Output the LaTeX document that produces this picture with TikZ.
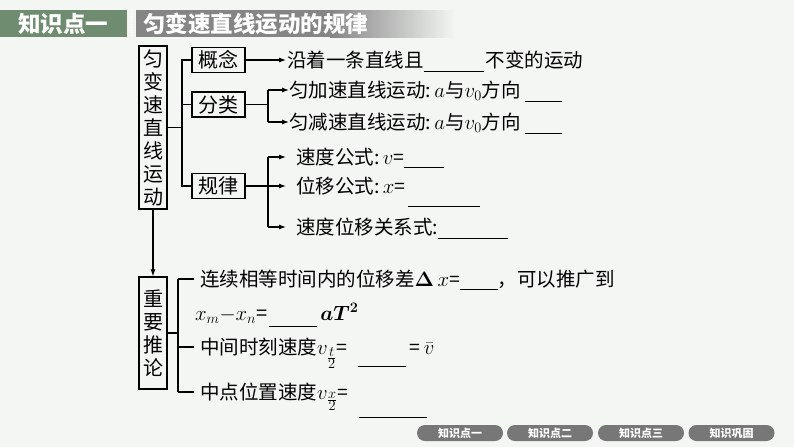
\documentclass[tikz,border=0pt]{standalone}
\usepackage{amsmath}
\usepackage[no-math]{fontspec}
\setmainfont{Noto Sans CJK SC}
\usetikzlibrary{arrows.meta}
\definecolor{bg}{HTML}{F3F6F3}
\definecolor{hgreen}{HTML}{6F8B70}
\definecolor{hgray}{HTML}{858585}
\definecolor{pillc}{HTML}{777777}
\newcommand{\blank}[2]{\rule[-#2]{#1}{0.9pt}}
\begin{document}
\begin{tikzpicture}[x=1pt,y=-1pt,
 ln/.style={line width=1.1pt},
 arr/.style={line width=1.1pt,-{Latex[length=7pt,width=5pt]}},
 vbox/.style={draw,line width=1.2pt,inner sep=0pt,minimum width=28pt,align=center,font=\fontsize{20}{23}\selectfont},
 hbox/.style={draw,line width=1.2pt,inner sep=0pt,minimum width=53pt,minimum height=25pt,font=\fontsize{20}{20}\selectfont},
 txt/.style={anchor=west,inner sep=0pt,text height=15pt,text depth=0pt,font=\fontsize{19.5}{20}\selectfont},
 pillst/.style={fill=pillc,rounded corners=8pt,minimum width=86pt,minimum height=16pt,inner sep=0pt,text=white,font=\fontsize{11}{11}\selectfont\bfseries},
 hdr/.style={text=white,inner sep=0pt,font=\fontsize{22.5}{22.5}\selectfont\bfseries}]
\useasboundingbox (0,0) rectangle (794,447);
\fill[bg] (0,0) rectangle (794,447);
% header
\fill[hgreen] (0,10) rectangle (127,37);
\node[hdr] (h1) at (63,23.5) {知识点一};
\draw[white,dotted,line width=0.8pt] (131.5,10) -- (131.5,37);
\fill[hgray] (136,10) rectangle (330,37);
\shade[left color=hgray,right color=bg] (330,10) rectangle (455,37);
\node[hdr,anchor=west] (h2) at (143,23.5) {匀变速直线运动的规律};
% boxes
\node[vbox,minimum height=163pt] (m1) at (153,127.5) {匀\\变\\速\\直\\线\\运\\动};
\node[hbox] (gn) at (218.5,60) {概念};
\node[hbox] (fl) at (218.5,104.5) {分类};
\node[hbox] (gl) at (218.5,186) {规律};
\node[vbox,minimum height=112pt] (m2) at (153,333) {重\\要\\推\\论};
\coordinate (bx) at (182,0);
\coordinate (cx) at (268,0);
\coordinate (dx) at (178,0);
% texts
\node[txt] (t1) at (287,60) {沿着一条直线且\blank{60pt}{4.5pt}\hspace{2pt}不变的运动};
\node[txt] (t2) at (289,90) {匀加速直线运动:\,$a$与$v_0$方向\hspace{4pt}\blank{37pt}{4.5pt}};
\node[txt] (t3) at (289,122) {匀减速直线运动:\,$a$与$v_0$方向\hspace{4pt}\blank{37pt}{4.5pt}};
\node[txt] (t4) at (296,157) {速度公式:\,$v$=\blank{40pt}{3.5pt}};
\node[txt] (t5) at (296,186) {位移公式:\,$x$=\hspace{3pt}\blank{72pt}{13pt}};
\node[txt] (t6) at (296,227) {速度位移关系式:\blank{70pt}{4pt}};
\node[txt] (t7) at (200,279) {连续相等时间内的位移差$\mathbf{\Delta}\,x$=\blank{38pt}{3.5pt}，可以推广到};
\node[txt,font=\fontsize{20}{20}\selectfont] (t8) at (195,313) {$x_m{-}x_n$=\hspace{2pt}\blank{48pt}{6pt}\hspace{3pt}{\fontsize{22}{22}\selectfont$\boldsymbol{aT^2}$}};
\node[txt] (t9) at (200,347) {中间时刻速度$v_{\frac{\scriptstyle t}{\scriptstyle 2}}$=\hspace{10pt}\blank{48pt}{12.5pt}\hspace{4pt}=\,$\bar v$};
\node[txt] (t10) at (200,392) {中点位置速度$v_{\frac{\scriptstyle x}{\scriptstyle 2}}$=\hspace{10pt}\blank{68pt}{18.5pt}};
% connectors
\draw[ln] (m1.east) -- (m1.east -| bx);
\draw[ln] (gn.west) -- (gn.west -| bx) -- (gl.west -| bx) -- (gl.west);
\draw[ln] (fl.west) -- (fl.west -| bx);
\draw[arr,shorten >=1pt] (gn.east) -- (t1.west);
\draw[ln] (fl.east) -- (fl.east -| cx);
\draw[ln] (t2.west -| cx) -- (t3.west -| cx);
\draw[arr] (t2.west -| cx) -- (t2.west);
\draw[arr] (t3.west -| cx) -- (t3.west);
\draw[ln] (t4.west -| cx) -- (t6.west -| cx);
\draw[arr] (gl.east) -- ([xshift=-10pt]t5.west);
\draw[arr] (t4.west -| cx) -- ([xshift=-10pt]t4.west);
\draw[arr] (t6.west -| cx) -- ([xshift=-10pt]t6.west);
\draw[arr] (m1) -- (m2);
\draw[ln] (m2.east) -- (m2.east -| dx);
\draw[ln] (t7.west -| dx) -- (t10.west -| dx);
\draw[ln,shorten >=6pt] (t7.west -| dx) -- (t7.west);
\draw[ln,shorten >=6pt] (t9.west -| dx) -- (t9.west);
\draw[ln,shorten >=6pt] (t10.west -| dx) -- (t10.west);
% nav pills
\node[pillst] (n1) at (460,433) {知识点一};
\node[pillst] (n2) at (550,433) {知识点二};
\node[pillst] (n3) at (641,433) {知识点三};
\node[pillst] (n4) at (731.5,433) {知识巩固};
\end{tikzpicture}
\end{document}
